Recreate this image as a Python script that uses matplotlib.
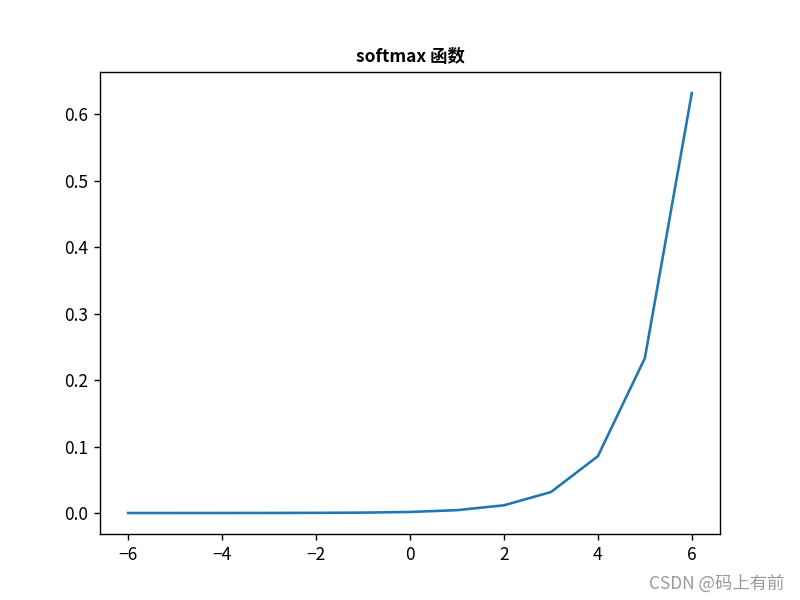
import matplotlib
matplotlib.use("Agg")
import matplotlib.pyplot as plt

plt.rcParams['font.family'] = ['Noto Sans CJK SC', 'DejaVu Sans']
plt.rcParams['axes.unicode_minus'] = True

# softmax values for x = -6..6
x = [-6, -5, -4, -3, -2, -1, 0, 1, 2, 3, 4, 5, 6]
y = [0.0000039, 0.0000106, 0.0000287, 0.000078, 0.000212, 0.000576,
     0.00157, 0.00426, 0.0116, 0.0315, 0.0855, 0.233, 0.632]

fig = plt.figure(figsize=(6.4, 4.8), dpi=125)
ax = fig.add_subplot(1, 1, 1)
ax.plot(x, y)
ax.set_title('softmax 函数', fontweight='bold', fontsize=10)

fig.text(0.981, 0.012, 'CSDN @码上有前', ha='right', va='bottom',
         color='#999999', fontsize=10)

fig.savefig('out.png', dpi=125)
